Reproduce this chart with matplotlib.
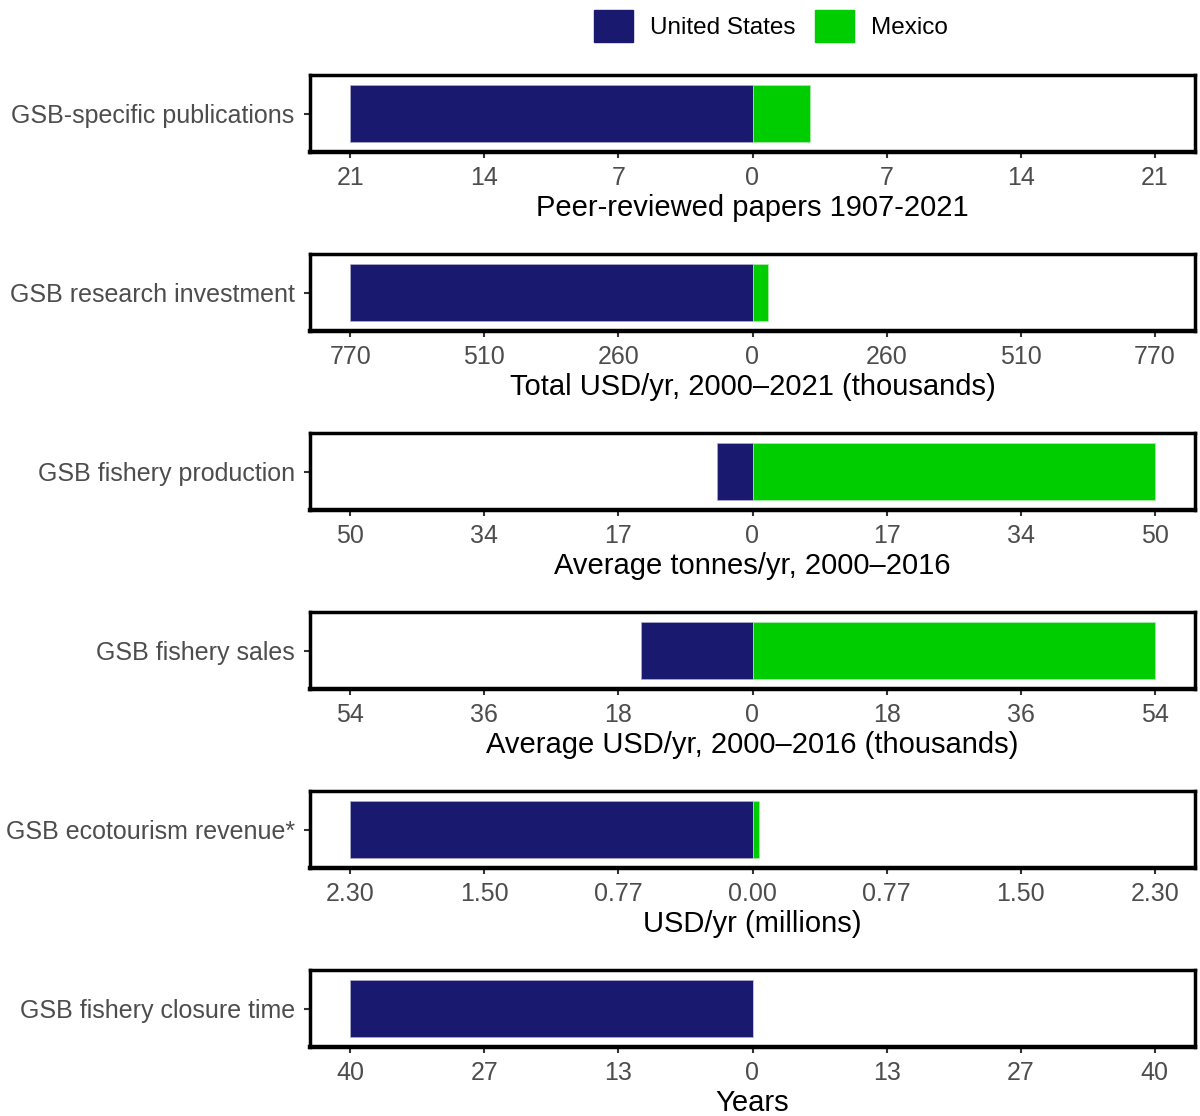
import matplotlib.pyplot as plt
import matplotlib
from matplotlib.patches import Patch

matplotlib.rcParams['font.family'] = ['Liberation Sans', 'DejaVu Sans']

# one panel per indicator: US drawn to the left, Mexico to the right
indicators = ['GSB\u2010specific publications', 'GSB research investment',
              'GSB fishery production', 'GSB fishery sales',
              'GSB ecotourism revenue*', 'GSB fishery closure time']
x_titles = ['Peer\u2010reviewed papers 1907-2021',
            'Total USD/yr, 2000\u20132021 (thousands)',
            'Average tonnes/yr, 2000\u20132016',
            'Average USD/yr, 2000\u20132016 (thousands)',
            'USD/yr (millions)',
            'Years']
us_vals = [21, 770, 4.4, 15.0, 2.30, 40]
mx_vals = [3, 30, 50.4, 54, 0.035, 0]
axis_max = [21, 770, 50.4, 54, 2.30, 40]
tick_labels = [['21', '14', '7', '0', '7', '14', '21'],
               ['770', '510', '260', '0', '260', '510', '770'],
               ['50', '34', '17', '0', '17', '34', '50'],
               ['54', '36', '18', '0', '18', '36', '54'],
               ['2.30', '1.50', '0.77', '0.00', '0.77', '1.50', '2.30'],
               ['40', '27', '13', '0', '13', '27', '40']]

us_col = '#191970'
mx_col = '#00CD00'
grey = '#4D4D4D'

W, H = 1200, 1116
fig = plt.figure(figsize=(W / 100, H / 100), dpi=100)

tops = [75, 254, 433, 612, 791, 970]
for i, name in enumerate(indicators):
    ax = fig.add_axes([310 / W, 1 - (tops[i] + 77) / H, 885 / W, 77 / H])
    m = axis_max[i]
    ax.barh([0], [-us_vals[i]], height=0.9, color=us_col, edgecolor='#B0B0D0', linewidth=0.5)
    ax.barh([0], [mx_vals[i]], height=0.9, color=mx_col, edgecolor='#B0E8B0', linewidth=0.5)
    ax.set_xlim(-1.1 * m, 1.1 * m)
    ax.set_ylim(-0.6, 0.6)
    ax.set_xticks([-m, -2 * m / 3, -m / 3, 0, m / 3, 2 * m / 3, m])
    ax.set_xticklabels(tick_labels[i])
    ax.set_yticks([0])
    ax.set_yticklabels([name])
    ax.tick_params(axis='both', length=4, width=1.5, color='#333333',
                   labelsize=18, labelcolor=grey)
    ax.tick_params(axis='x', pad=6)
    ax.tick_params(axis='y', pad=7)
    ax.set_xlabel(x_titles[i], fontsize=21, color='black', labelpad=3)
    for side in ax.spines.values():
        side.set_linewidth(2.5)
        side.set_color('black')
    ax.spines['bottom'].set_linewidth(3.2)

fig.legend(handles=[Patch(color=us_col, label='United States'),
                    Patch(color=mx_col, label='Mexico')],
           loc='center', bbox_to_anchor=(771 / W, 1 - 26 / H), ncol=2,
           frameon=False, fontsize=17.5, handlelength=1.6, handleheight=1.6,
           handletextpad=0.7, columnspacing=0.8)

fig.savefig('out.png', dpi=100)
